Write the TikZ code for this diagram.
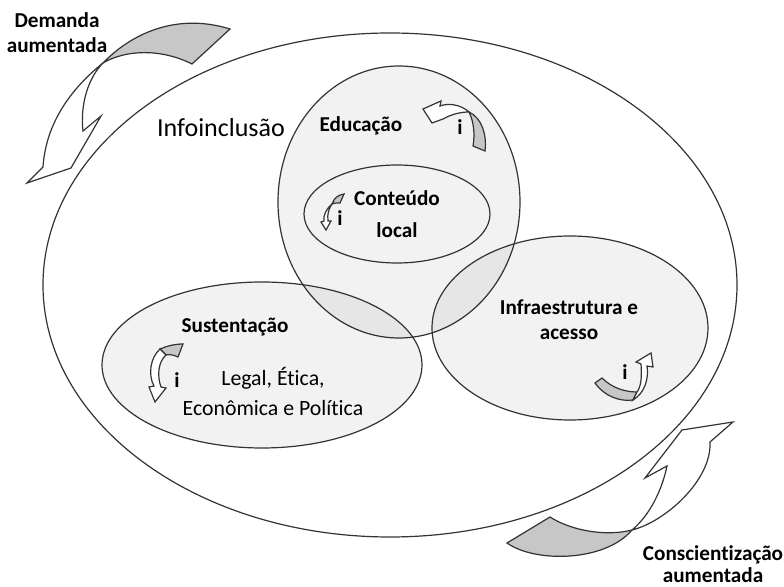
\documentclass[tikz,border=0pt]{standalone}
\usepackage{fontspec}
\setmainfont[Ligatures=CommonOff]{Carlito}

\begin{document}
\begin{tikzpicture}[x=0.5pt,y=-0.5pt,
    line width=0.6pt,
    ring/.style={draw=black!80},
    area/.style={draw=black!80, fill=black, fill opacity=0.05, text opacity=1},
    tail/.style={draw=black!80, fill=black!22},
    head/.style={draw=black!80, fill=white},
    lbl/.style={font=\bfseries\fontsize{10.6}{12.5}\selectfont, align=center, inner sep=0pt},
    txt/.style={font=\fontsize{10.9}{15}\selectfont, align=center, inner sep=0pt},
    ii/.style={font=\bfseries\fontsize{10.6}{12}\selectfont, inner sep=0pt}]
    \useasboundingbox (0,0) rectangle (784,587);

    % outer ellipse
    \draw[ring] (390,285) ellipse [x radius=347, y radius=252];

    % the three areas
    \draw[area] (399,202) ellipse [x radius=121, y radius=136];
    \draw[area] (262,365) ellipse [x radius=160, y radius=83];
    \draw[area] (570,328) ellipse [x radius=138, y radius=92];
    \draw[draw=black!80, fill=black!5] (397,214) ellipse [x radius=93, y radius=49];

    % big arrow top left
    \draw[tail] (103,63) .. controls (130,35) and (175,12) .. (230,29) -- (192,64)
        .. controls (160,48) and (125,50) .. (103,63) -- cycle;
    \draw[ring] (103,63) .. controls (72,88) and (46,122) .. (43,167) -- (27,183) -- (71,168)
        -- (101,116) -- (83,131) .. controls (80,105) and (88,78) .. (103,63);

    % big arrow bottom right
    \draw[tail] (632,530) .. controls (605,537) and (570,530) .. (550,517) -- (507,543)
        .. controls (535,563) and (605,562) .. (632,530) -- cycle;
    \draw[ring] (632,530) .. controls (665,522) and (712,480) .. (710,442) -- (733,422) -- (682,430)
        -- (645,478) -- (667,466) .. controls (662,490) and (650,515) .. (632,530);

    % small arrow Educacao
    \draw[tail] (469,112) .. controls (482,118) and (487,135) .. (485,151) -- (473,146)
        .. controls (475,135) and (474,122) .. (469,112) -- cycle;
    \draw[head] (469,112) .. controls (460,104) and (448,103) .. (440,106) -- (441,101) -- (423,109)
        -- (432,123) -- (443,119) .. controls (452,114) and (461,112) .. (469,112) -- cycle;

    % small arrow Conteudo local
    \draw[tail] (332,204) .. controls (334,198) and (338,195) .. (344,194) -- (340,203)
        .. controls (337,203) and (334,203) .. (332,204) -- cycle;
    \draw[head] (332,204) .. controls (326,209) and (323,216) .. (324,221) -- (321,222) -- (326,230)
        -- (331,221) -- (328,221) .. controls (327,214) and (329,208) .. (332,204) -- cycle;

    % small arrow Sustentacao
    \draw[tail] (160,349) .. controls (167,346) and (175,344) .. (183,344) -- (178,357)
        .. controls (174,355) and (169,354) .. (166,355) -- cycle;
    \draw[head] (160,349) .. controls (150,358) and (148,375) .. (154,386) -- (149,387) -- (155,402)
        -- (166,388) -- (161,387) .. controls (157,376) and (158,362) .. (166,355) -- cycle;

    % small arrow Infraestrutura
    \draw[tail] (595,383) -- (602,378) .. controls (612,388) and (625,392) .. (637,392)
        -- (633,400) .. controls (620,402) and (604,396) .. (595,383) -- cycle;
    \draw[head] (633,400) .. controls (645,393) and (649,378) .. (647,366) -- (653,367) -- (651,353)
        -- (636,362) -- (641,364) .. controls (642,377) and (641,387) .. (637,392) -- cycle;

    % texts
    \node[lbl] (demanda) at (57,33) {Demanda\\aumentada};
    \node[lbl, font=\bfseries\fontsize{10.6}{11}\selectfont] (consc) at (713,564) {Conscientização\\aumentada};
    \node[font=\fontsize{13}{15}\selectfont, inner sep=0pt] (infoinc) at (221,128) {Infoinclusão};
    \node[lbl] (educ) at (361,126) {Educação};
    \node[lbl, font=\bfseries\fontsize{10.6}{16}\selectfont] (conteudo) at (397,214) {Conteúdo\\local};
    \node[lbl] (sust) at (235,327) {Sustentação};
    \node[txt] (legal) at (273,391) {Legal, Ética,\\Econômica e Política};
    \node[lbl] (infra) at (569,320) {Infraestrutura e\\acesso};

    \node[ii] (ieduc) at (460,127) {i};
    \node[ii] (icont) at (340,218) {i};
    \node[ii] (isust) at (177,380) {i};
    \node[ii] (iinfra) at (625,372) {i};
\end{tikzpicture}
\end{document}
